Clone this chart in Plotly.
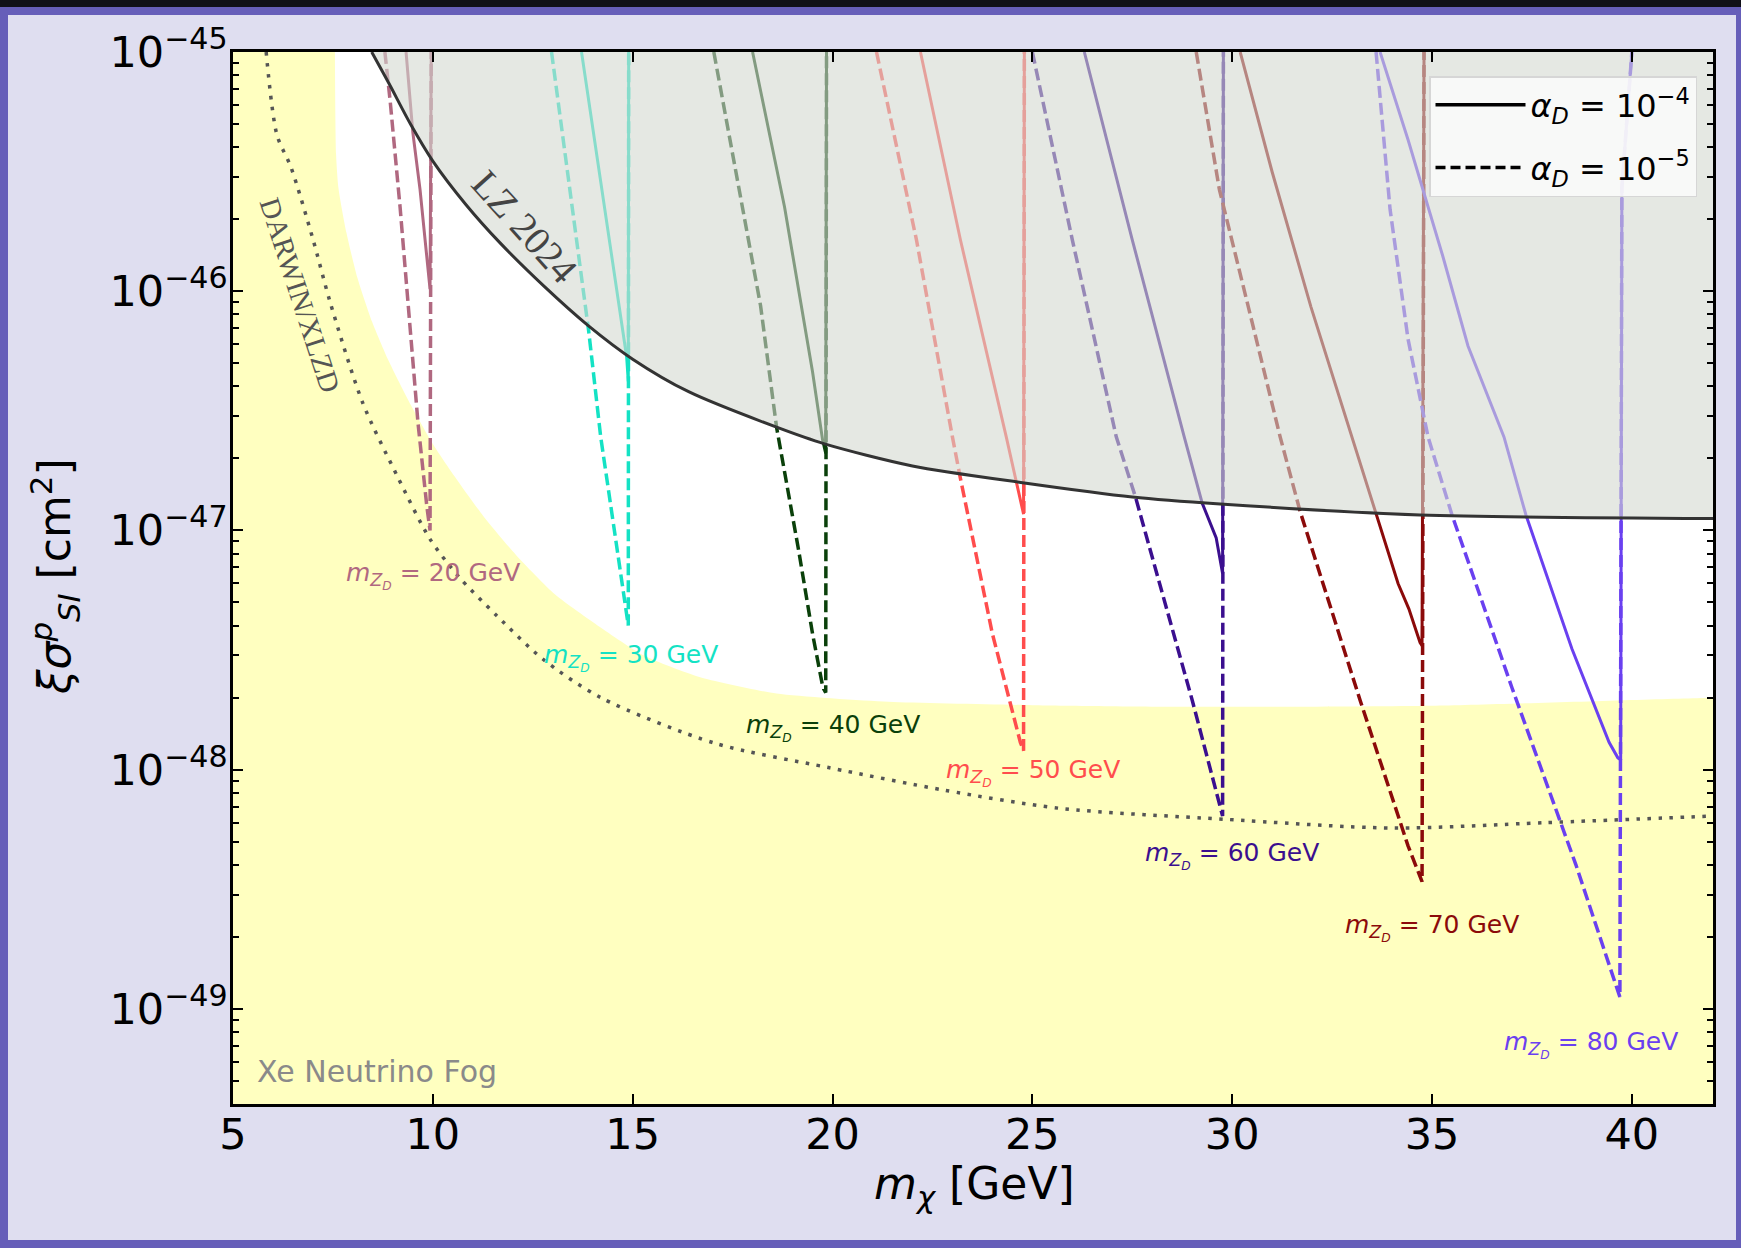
import plotly.graph_objects as go
import numpy as np

# ---------------- data ----------------
# LZ 2024 exclusion limit
lz_mass = [8.47, 8.9, 9.44, 10.0, 10.83, 11.67, 12.78, 13.88, 15.0, 16.4, 18.6, 19.8, 22.0, 24.8, 27.5, 29.7,
           34.7, 42.1]
lz_sigma = [1e-45, 7.4e-46, 5.0e-46, 3.5e-46, 2.3e-46, 1.6e-46, 1.05e-46, 7.2e-47, 5.2e-47, 3.8e-47, 2.7e-47,
            2.3e-47, 1.86e-47, 1.58e-47, 1.38e-47, 1.29e-47, 1.16e-47, 1.12e-47]

# Xe neutrino fog boundary
fog_mass = [7.55, 7.58, 7.64, 7.84, 8.11, 8.48, 8.89, 9.45, 10.0, 10.56, 11.26, 12.08, 13.06, 14.17, 15.28,
            16.67, 18.6, 21.4, 25.0, 29.0, 35.0, 42.1]
fog_sigma = [1e-45, 3.7e-46, 2.69e-46, 1.75e-46, 1.14e-46, 7.45e-47, 5.13e-47, 3.34e-47, 2.3e-47, 1.67e-47,
             1.15e-47, 7.9e-48, 5.4e-48, 3.96e-48, 3.0e-48, 2.44e-48, 2.08e-48, 1.92e-48, 1.86e-48, 1.83e-48,
             1.85e-48, 2.0e-48]

# DARWIN/XLZD projection
darwin_mass = [5.83, 6.1, 6.45, 7.0, 7.43, 8.25, 9.1, 9.93, 10.65, 11.6, 12.75, 14.2, 17.05, 19.9, 22.8, 25.65,
               29.8, 34.0, 37.8, 42.1]
darwin_sigma = [1e-45, 4.5e-46, 3.3e-46, 1.65e-46, 9.0e-47, 3.4e-47, 1.7e-47, 9.2e-48, 6.4e-48, 4.4e-48, 2.9e-48,
                2.0e-48, 1.29e-48, 1.02e-48, 8.2e-49, 6.9e-49, 6.2e-49, 5.7e-49, 6.0e-49, 6.4e-49]

# Signal curves, m_ZD = 20 ... 80 GeV; solid: alpha_D = 1e-4, dashed: alpha_D = 1e-5
mzd_values = [20, 30, 40, 50, 60, 70, 80]
mzd_colors = ["#b06880", "#14e2c4", "#0a400a", "#ff4d4d", "#3b0f8f", "#8b0a0a", "#6a40f0"]

solid_mass = {
    20: [9.33, 9.50, 9.68, 9.88, 9.93, 9.96],
    30: [13.72, 14.29, 14.85, 14.89, 14.90],
    40: [18.0, 18.8, 19.5, 19.75, 19.83, 19.85],
    50: [22.2, 23.2, 24.35, 24.78, 24.80],
    60: [26.3, 27.5, 28.8, 29.25, 29.6, 29.76, 29.78],
    70: [30.2, 31.0, 31.97, 33.0, 33.6, 34.15, 34.42, 34.7, 34.75, 34.80],
    80: [33.7, 34.4, 35.27, 35.9, 36.8, 37.35, 38.5, 39.43, 39.65, 39.72, 39.75, 40.0],
}
solid_sigma = {
    20: [1e-45, 4.6e-46, 2.66e-46, 1.2e-46, 1.02e-46, 1e-45],
    30: [1e-45, 2.25e-46, 5.3e-47, 4.2e-47, 1e-45],
    40: [1e-45, 2.25e-46, 4.6e-47, 2.4e-47, 2.1e-47, 1e-45],
    50: [1e-45, 1.64e-46, 2.45e-47, 1.17e-47, 1e-45],
    60: [1e-45, 1.64e-46, 2.46e-47, 1.3e-47, 9.3e-48, 6.6e-48, 1e-45],
    70: [1e-45, 3.15e-46, 8.6e-47, 2.46e-47, 1.16e-47, 6.0e-48, 4.7e-48, 3.4e-48, 3.3e-48, 1e-45],
    80: [1e-45, 4.3e-46, 1.4e-46, 5.9e-47, 2.46e-47, 1.16e-47, 3.2e-48, 1.3e-48, 1.12e-48, 1.1e-48, 2.7e-46, 1e-45],
}
dashed_mass = {
    20: [8.80, 8.93, 9.18, 9.43, 9.63, 9.85, 9.93, 9.96],
    30: [12.97, 13.70, 13.90, 14.20, 14.76, 14.89, 14.90],
    40: [17.03, 17.6, 18.2, 18.6, 19.15, 19.5, 19.76, 19.83, 19.85],
    50: [21.1, 22.1, 23.0, 23.2, 24.0, 24.7, 24.78, 24.80],
    60: [25.0, 26.0, 27.1, 27.58, 27.93, 28.3, 29.0, 29.76, 29.78],
    70: [29.1, 29.68, 30.5, 31.2, 31.7, 33.2, 34.4, 34.75, 34.80],
    80: [33.6, 33.95, 34.4, 34.9, 35.5, 37.0, 38.6, 39.70, 39.75, 40.0],
}
dashed_sigma = {
    20: [1e-45, 6.3e-46, 2.25e-46, 7.4e-47, 2.8e-47, 1.26e-47, 1.0e-47, 1e-45],
    30: [1e-45, 1.26e-46, 6.8e-47, 2.46e-47, 5.5e-48, 4.0e-48, 1e-45],
    40: [1e-45, 3.1e-46, 8.7e-47, 2.7e-47, 8.3e-48, 3.7e-48, 2.2e-48, 2.1e-48, 1e-45],
    50: [1e-45, 1.64e-46, 2.46e-47, 1.65e-47, 3.7e-48, 1.3e-48, 1.2e-48, 1e-45],
    60: [1e-45, 1.64e-46, 2.46e-47, 1.38e-47, 8.5e-48, 5.1e-48, 1.95e-48, 6.4e-49, 1e-45],
    70: [1e-45, 2.66e-46, 7.4e-47, 2.46e-47, 1.2e-47, 1.95e-48, 4.8e-49, 3.4e-49, 1e-45],
    80: [1e-45, 2.2e-46, 6.3e-47, 2.46e-47, 1.16e-47, 2.2e-48, 4.0e-49, 1.12e-49, 2.7e-46, 1e-45],
}

# label anchors (left edge x, log10 sigma of centre)
label_mass = [7.78, 12.73, 17.78, 22.78, 27.78, 32.78, 36.75]
label_logsigma = [-47.19, -47.533, -47.822, -48.01, -48.36, -48.66, -49.15]

x_ticks = [5, 10, 15, 20, 25, 30, 35, 40]
y_tick_exps = [-45, -46, -47, -48, -49]

# ---------------- figure geometry ----------------
W, H = 1741, 1248
PL, PR, PT, PB = 233, 1713, 52, 1104
FONT = "DejaVu Sans"


def px2x(px):
    return (px - PL) / (PR - PL)


def py2y(py):
    return (PB - py) / (PB - PT)


fig = go.Figure()

# neutrino fog
fig.add_trace(go.Scatter(
    x=[4.5, fog_mass[0]] + fog_mass + [43, 43, 4.5],
    y=[1e-44, 1e-44] + fog_sigma + [fog_sigma[-1], 1e-51, 1e-51],
    fill="toself", fillcolor="#ffffc0", mode="lines",
    line=dict(width=0, shape="spline", smoothing=0.6),
    showlegend=False, hoverinfo="skip"))

# DARWIN/XLZD dotted
fig.add_trace(go.Scatter(
    x=darwin_mass, y=darwin_sigma, mode="lines",
    line=dict(color="#555555", width=3.5, dash="3.5px,7.5px", shape="spline", smoothing=0.8),
    showlegend=False, hoverinfo="skip"))

# signal curves
for mz, col in zip(mzd_values, mzd_colors):
    fig.add_trace(go.Scatter(
        x=dashed_mass[mz], y=dashed_sigma[mz], mode="lines",
        line=dict(color=col, width=3.5, dash="12px,5px"),
        showlegend=False, hoverinfo="skip"))
    fig.add_trace(go.Scatter(
        x=solid_mass[mz], y=solid_sigma[mz], mode="lines",
        line=dict(color=col, width=3),
        showlegend=False, hoverinfo="skip"))

# LZ excluded region (semi-transparent overlay fades curves beneath)
fig.add_trace(go.Scatter(
    x=[lz_mass[0]] + lz_mass + [43, 43, lz_mass[0]],
    y=[1e-44] + lz_sigma + [lz_sigma[-1], 1e-44, 1e-44],
    fill="toself", fillcolor="rgba(212,217,208,0.6)", mode="lines",
    line=dict(width=0, shape="spline", smoothing=0.8),
    showlegend=False, hoverinfo="skip"))
fig.add_trace(go.Scatter(
    x=lz_mass, y=lz_sigma, mode="lines",
    line=dict(color="#333333", width=3, shape="spline", smoothing=0.8),
    showlegend=False, hoverinfo="skip"))

# legend entries
fig.add_trace(go.Scatter(
    x=[None], y=[None], mode="lines", line=dict(color="black", width=3.5),
    name="<i>α</i><sub><i>D</i></sub> = 10<sup>−4</sup>", legendgroup="a"))
fig.add_trace(go.Scatter(
    x=[None], y=[None], mode="lines", line=dict(color="black", width=3.5, dash="10px,5px"),
    name="<i>α</i><sub><i>D</i></sub> = 10<sup>−5</sup>", legendgroup="b"))

annotations = []
for mz, col, xm, ly in zip(mzd_values, mzd_colors, label_mass, label_logsigma):
    annotations.append(dict(
        x=xm, y=ly, xref="x", yref="y", xanchor="left", yanchor="middle", showarrow=False,
        text=f"<i>m</i><sub><i>Z</i><sub><i>D</i></sub></sub> = {mz} GeV",
        font=dict(family=FONT, size=25, color=col)))

annotations += [
    dict(x=12.3, y=-45.73, xref="x", yref="y", text="LZ 2024", showarrow=False, textangle=48,
         font=dict(family="Liberation Serif", size=39, color="#444444")),
    dict(x=6.68, y=-46.015, xref="x", yref="y", text="DARWIN/XLZD", showarrow=False, textangle=72,
         font=dict(family="Liberation Serif", size=29, color="#555555")),
    dict(x=5.55, y=-49.26, xref="x", yref="y", text="Xe Neutrino Fog", showarrow=False,
         xanchor="left", yanchor="middle", font=dict(family=FONT, size=30, color="#8a8a8a")),
    dict(x=px2x(974), y=py2y(1186), xref="paper", yref="paper", showarrow=False,
         xanchor="center", yanchor="middle",
         text="<i>m</i><sub><i>χ</i></sub> [GeV]", font=dict(family=FONT, size=44, color="black")),
    dict(x=px2x(55), y=py2y(577), xref="paper", yref="paper", showarrow=False, textangle=-90,
         xanchor="center", yanchor="middle",
         text="<i>ξσ</i><sup><i>p</i></sup><sub><i>SI</i></sub> [cm<sup>2</sup>]",
         font=dict(family=FONT, size=44, color="black")),
]

border = "#665eb9"
shapes = [
    dict(type="rect", xref="paper", yref="paper", x0=px2x(0), x1=px2x(W), y0=py2y(0), y1=py2y(7),
         fillcolor="#101018", line=dict(width=0), layer="above"),
    dict(type="rect", xref="paper", yref="paper", x0=px2x(0), x1=px2x(W), y0=py2y(7), y1=py2y(15),
         fillcolor=border, line=dict(width=0), layer="above"),
    dict(type="rect", xref="paper", yref="paper", x0=px2x(0), x1=px2x(8), y0=py2y(7), y1=py2y(H),
         fillcolor=border, line=dict(width=0), layer="above"),
    dict(type="rect", xref="paper", yref="paper", x0=px2x(1736), x1=px2x(W), y0=py2y(7), y1=py2y(H),
         fillcolor=border, line=dict(width=0), layer="above"),
    dict(type="rect", xref="paper", yref="paper", x0=px2x(0), x1=px2x(W), y0=py2y(1240), y1=py2y(H),
         fillcolor=border, line=dict(width=0), layer="above"),
]

minor_vals = [k * 10.0 ** e for e in range(-50, -45) for k in range(2, 10)]

fig.update_layout(
    width=W, height=H,
    margin=dict(l=PL, r=W - PR, t=PT, b=H - PB, autoexpand=False),
    paper_bgcolor="#dfdef0", plot_bgcolor="white",
    font=dict(family=FONT, color="black"),
    annotations=annotations, shapes=shapes,
    showlegend=True,
    legend=dict(x=px2x(1697), y=py2y(76), xanchor="right", yanchor="top",
                bgcolor="rgba(250,250,250,0.88)", bordercolor="#d6d6d6", borderwidth=1.5,
                font=dict(family=FONT, size=32, color="black"), tracegroupgap=18,
                itemwidth=90),
    xaxis=dict(range=[5, 42.03], tickmode="array", tickvals=x_ticks, ticktext=[str(v) for v in x_ticks],
               ticks="inside", ticklen=10, tickwidth=2, tickcolor="black", ticklabelstandoff=-9,
               showline=True, linecolor="black", linewidth=2.5, mirror="ticks",
               showgrid=False, zeroline=False, tickfont=dict(family=FONT, size=43, color="black")),
    yaxis=dict(type="log", range=[np.log10(4e-50), -45],
               tickmode="array", tickvals=[10.0 ** e for e in y_tick_exps],
               ticktext=[f"10<sup>−{-e}</sup>" for e in y_tick_exps],
               ticks="inside", ticklen=10, tickwidth=2, tickcolor="black", ticklabelstandoff=-6,
               minor=dict(tickmode="array", tickvals=minor_vals, ticks="inside", ticklen=6,
                          tickwidth=1.5, tickcolor="black", showgrid=False),
               showline=True, linecolor="black", linewidth=2.5, mirror="ticks",
               showgrid=False, zeroline=False, tickfont=dict(family=FONT, size=43, color="black")),
)

fig.write_html("out.html")
